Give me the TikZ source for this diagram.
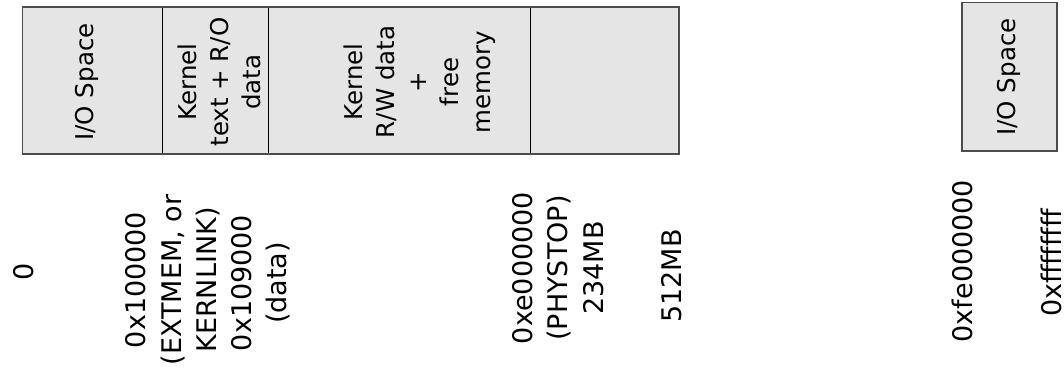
\documentclass[tikz,border=0pt]{standalone}
\usepackage{fontspec}
\setmainfont{DejaVu Sans}
\usepackage{xcolor}
\usepackage{tikz}
\usetikzlibrary{calc}

\begin{document}
\begin{tikzpicture}[x=1pt,y=-1pt,
  membox/.style={fill=gray!20,draw=black!70,line width=1.5pt},
  memline/.style={draw=black,line width=0.9pt},
  memtext/.style={rotate=90,align=center,inner sep=0pt,
    font=\fontsize{24.5}{32}\selectfont},
  addrtext/.style={rotate=90,align=center,inner sep=0pt,
    font=\fontsize{27}{35.5}\selectfont}]
\useasboundingbox (0,0) rectangle (1064,368);
\def\boxtop{7}\def\boxbot{154}
\def\xlo{22.7}\def\xa{162.7}\def\xb{268.3}\def\xc{530}\def\xhi{679}
% Physical memory box
\fill[gray!20] (\xlo,\boxtop) rectangle (\xhi,\boxbot);
\draw[memline] (\xa,\boxtop) -- (\xa,\boxbot);
\draw[memline] (\xb,\boxtop) -- (\xb,\boxbot);
\draw[memline] (\xc,\boxtop) -- (\xc,\boxbot);
\draw[draw=black!70,line width=1.5pt] (\xlo,\boxtop) rectangle (\xhi,\boxbot);
% I/O space at the top of the address space
\draw[membox] (962,2.3) rectangle (1057,151);

% Region names
\node[memtext] (iolow) at (87,82) {I/O Space};
\node[memtext] (ktext) at (219,82) {Kernel\\text + R/O\\data};
\node[memtext] (kdata) at (420,82) {Kernel\\R/W data\\+\\free\\memory};
\node[memtext] (iohigh) at (1009,77) {I/O Space};

% Addresses
\node[addrtext] (azero) at (24,272) {0};
\node[addrtext] (aextmem) at (173,280) {0x100000\\(EXTMEM, or\\KERNLINK)};
\node[addrtext] (adata) at (261,283) {0x109000\\(data)};
\node[addrtext] (aphystop) at (558,268) {0xe000000\\(PHYSTOP)\\234MB};
\node[addrtext] (amax) at (672,276) {512MB};
\node[addrtext] (adevspace) at (962,261) {0xfe000000};
\node[addrtext] (atop) at (1051,263) {0xffffffff};
\end{tikzpicture}
\end{document}
